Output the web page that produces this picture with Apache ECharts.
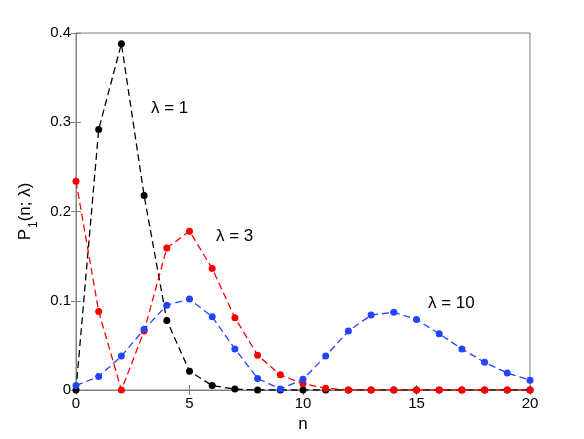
<!DOCTYPE html>
<html>
<head>
<meta charset="utf-8">
<script src="https://cdn.jsdelivr.net/npm/echarts@6/dist/echarts.min.js"></script>
<style>
  html, body { margin: 0; padding: 0; background: #fff; }
  #chart { width: 584px; height: 439px; }
</style>
</head>
<body>
<div id="chart"></div>
<script>
// n values 0..20
const nValues = [0, 1, 2, 3, 4, 5, 6, 7, 8, 9, 10, 11, 12, 13, 14, 15, 16, 17, 18, 19, 20]

// P1(n; λ)
const lambda1 = [0, 0.292, 0.388, 0.218, 0.078, 0.021, 0.005, 0.001, 0, 0, 0, 0, 0, 0, 0, 0, 0, 0, 0, 0, 0]
const lambda3 = [0.234, 0.088, 0, 0.066, 0.159, 0.178, 0.136, 0.081, 0.039, 0.017, 0.007, 0.002, 0, 0, 0, 0, 0, 0, 0, 0, 0]
const lambda10 = [0.005, 0.015, 0.038, 0.068, 0.095, 0.102, 0.082, 0.046, 0.013, 0.001, 0.012, 0.038, 0.066, 0.084, 0.087, 0.079, 0.063, 0.046, 0.031, 0.019, 0.011]

const xTicks = [0, 5, 10, 15, 20]
const yTicks = [0, 0.1, 0.2, 0.3, 0.4]

const pairs = (ys) => nValues.map((n, i) => [n, ys[i]])

const font = 'Liberation Sans, Arial, sans-serif'
const frameColor = '#808080'

function makeSeries(name, ys, color) {
    return {
        name: name,
        type: 'line',
        data: pairs(ys),
        symbol: 'circle',
        symbolSize: 7,
        showSymbol: true,
        itemStyle: { color: color },
        lineStyle: { color: color, width: 1.3, type: [7, 4] },
        animation: false
    }
}

let chart = echarts.init(document.getElementById('chart'))

let option = {
    backgroundColor: '#fff',
    animation: false,
    grid: { left: 76, right: 54, top: 33, bottom: 49, show: true, borderColor: frameColor, borderWidth: 1 },
    xAxis: [{
        type: 'value',
        min: 0, max: 20, interval: 5,
        name: 'n',
        nameLocation: 'middle',
        nameGap: 26,
        nameTextStyle: { fontFamily: font, fontSize: 17, color: '#000' },
        axisLine: { show: true, lineStyle: { color: '#000' } },
        axisTick: { inside: true, length: 5, lineStyle: { color: frameColor } },
        axisLabel: { fontFamily: font, fontSize: 15, color: '#000', margin: 6,
            formatter: v => xTicks.indexOf(v) >= 0 ? String(v) : '' },
        splitLine: { show: false }
    }, {
        type: 'value',
        position: 'top',
        min: 0, max: 20, interval: 5,
        axisLine: { show: true, lineStyle: { color: frameColor } },
        axisTick: { inside: true, length: 5, lineStyle: { color: frameColor } },
        axisLabel: { show: false },
        splitLine: { show: false }
    }],
    yAxis: [{
        type: 'value',
        min: 0, max: 0.4, interval: 0.1,
        name: '{m|P}{sub|1}{m|(n; λ)}',
        nameLocation: 'middle',
        nameGap: 36,
        nameRotate: 90,
        nameTextStyle: {
            fontFamily: font, fontSize: 17, color: '#000',
            rich: {
                m: { fontFamily: font, fontSize: 17, color: '#000', verticalAlign: 'top', lineHeight: 22 },
                sub: { fontFamily: font, fontSize: 12, color: '#000', verticalAlign: 'bottom', lineHeight: 22, padding: [12, 0, 0, 1] }
            }
        },
        axisLine: { show: true, lineStyle: { color: frameColor } },
        axisTick: { inside: true, length: 5, lineStyle: { color: frameColor } },
        axisLabel: { fontFamily: font, fontSize: 15, color: '#000', margin: 5,
            formatter: v => {
                let t = yTicks.find(y => Math.abs(y - v) < 1e-9)
                return t === undefined ? '' : (t === 0 ? '0' : t.toFixed(1))
            } },
        splitLine: { show: false }
    }, {
        type: 'value',
        position: 'right',
        min: 0, max: 0.4, interval: 0.1,
        axisLine: { show: true, lineStyle: { color: frameColor } },
        axisTick: { inside: true, length: 5, lineStyle: { color: frameColor } },
        axisLabel: { show: false },
        splitLine: { show: false }
    }],
    series: [
        makeSeries('λ = 1', lambda1, '#000000'),
        makeSeries('λ = 3', lambda3, '#ff0000'),
        makeSeries('λ = 10', lambda10, '#2244ff')
    ],
    graphic: [
        { type: 'text', left: 151, top: 100, style: { text: 'λ = 1', font: '17px ' + font, fill: '#000' } },
        { type: 'text', left: 216, top: 228, style: { text: 'λ = 3', font: '17px ' + font, fill: '#000' } },
        { type: 'text', left: 428, top: 295, style: { text: 'λ = 10', font: '17px ' + font, fill: '#000' } }
    ]
}

chart.setOption(option)
</script>
</body>
</html>
